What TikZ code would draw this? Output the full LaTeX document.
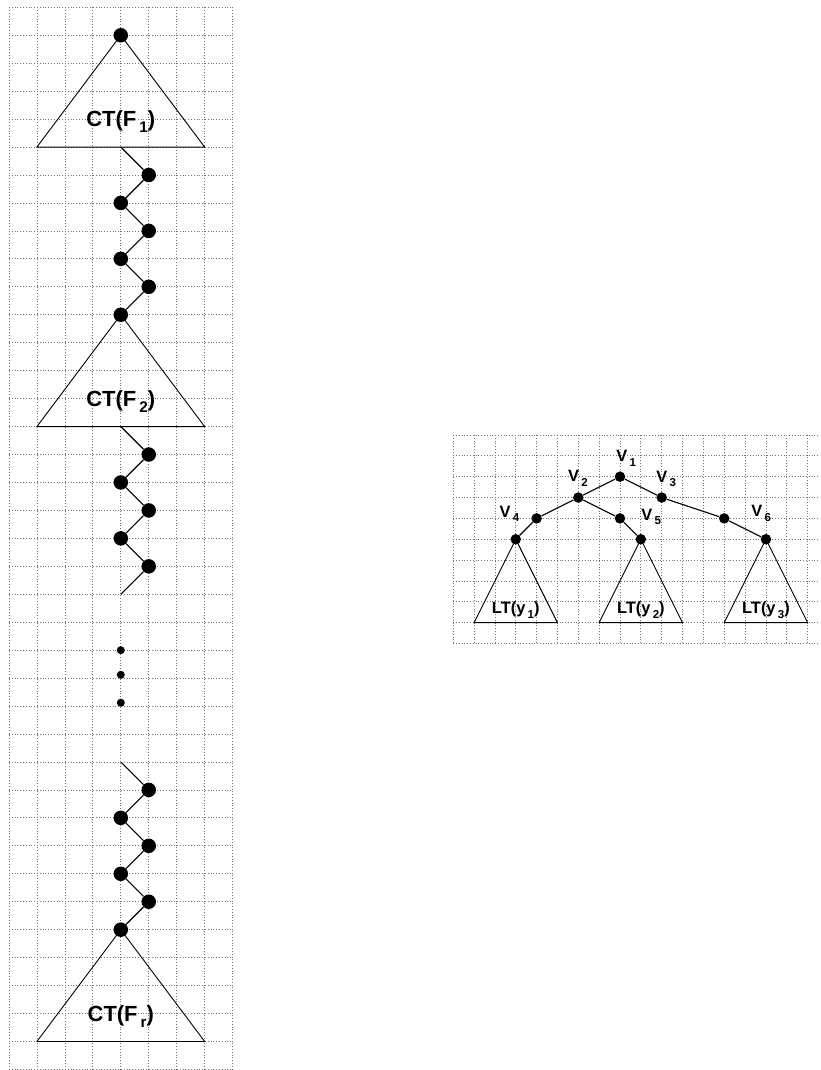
\documentclass[tikz,border=0pt]{standalone}
\usepackage{fontspec}
\setmainfont{Liberation Sans}
\usepackage{graphicx}
\newcommand{\sbx}[1]{\kern0.14em\raisebox{-0.28em}{\scalebox{0.7}{#1}}}
\tikzset{
 gridline/.style={draw=black!55, line width=0.75bp, dash pattern=on 0.75bp off 2.05bp},
 edge/.style={line width=1.1bp},
 tri/.style={line width=0.9bp},
 bigdot/.style={circle, fill=black, inner sep=0pt, minimum size=14.5bp},
 rdot/.style={circle, fill=black, inner sep=0pt, minimum size=10.5bp},
 smdot/.style={circle, fill=black, inner sep=0pt, minimum size=8bp},
 ctlabel/.style={font=\fontsize{22}{25}\selectfont\bfseries, inner sep=0pt, anchor=base},
 ltlabel/.style={font=\fontsize{16.5}{19}\selectfont\bfseries, inner sep=0pt, anchor=base},
 vlabel/.style={font=\fontsize{16.5}{19}\selectfont\bfseries, inner sep=0pt, anchor=base west},
}
\begin{document}
\begin{tikzpicture}[x=1bp,y=-1bp]
\useasboundingbox (0,0) rectangle (821,1070);
% ---------------- left: chain of caterpillar trees ----------------
\begin{scope}[shift={(9,7.3)}, x=27.95bp, y=-27.95bp]
 \foreach \i in {0,...,8} \draw[gridline] (\i,0) -- (\i,38);
 \foreach \j in {0,...,38} \draw[gridline] (0,\j) -- (8,\j);
 % triangle corners and free ends
 \coordinate (t1l) at (1,5); \coordinate (t1r) at (7,5); \coordinate (m1) at (4,5);
 \coordinate (t2l) at (1,15); \coordinate (t2r) at (7,15); \coordinate (m2) at (4,15);
 \coordinate (t3l) at (1,37); \coordinate (t3r) at (7,37);
 \coordinate (e1) at (4,21); \coordinate (e2) at (4,27);
 % nodes
 \node[bigdot] (r1) at (4,1) {};
 \node[bigdot] (a1) at (5,6) {};
 \node[bigdot] (a2) at (4,7) {};
 \node[bigdot] (a3) at (5,8) {};
 \node[bigdot] (a4) at (4,9) {};
 \node[bigdot] (a5) at (5,10) {};
 \node[bigdot] (r2) at (4,11) {};
 \node[bigdot] (b1) at (5,16) {};
 \node[bigdot] (b2) at (4,17) {};
 \node[bigdot] (b3) at (5,18) {};
 \node[bigdot] (b4) at (4,19) {};
 \node[bigdot] (b5) at (5,20) {};
 \node[smdot] (d1) at (4,23) {};
 \node[smdot] (d2) at (4,23.88) {};
 \node[smdot] (d3) at (4,24.88) {};
 \node[bigdot] (c1) at (5,28) {};
 \node[bigdot] (c2) at (4,29) {};
 \node[bigdot] (c3) at (5,30) {};
 \node[bigdot] (c4) at (4,31) {};
 \node[bigdot] (c5) at (5,32) {};
 \node[bigdot] (r3) at (4,33) {};
 % triangles
 \draw[tri] (r1.center) -- (t1l) -- (t1r) -- cycle;
 \draw[tri] (r2.center) -- (t2l) -- (t2r) -- cycle;
 \draw[tri] (r3.center) -- (t3l) -- (t3r) -- cycle;
 % connectors
 \draw[edge] (m1) -- (a1) -- (a2) -- (a3) -- (a4) -- (a5) -- (r2);
 \draw[edge] (m2) -- (b1) -- (b2) -- (b3) -- (b4) -- (b5) -- (e1);
 \draw[edge] (e2) -- (c1) -- (c2) -- (c3) -- (c4) -- (c5) -- (r3);
 % labels
 \node[ctlabel] (ct1) at (4,4.27) {CT(F\sbx{1})};
 \node[ctlabel] (ct2) at (4,14.27) {CT(F\sbx{2})};
 \node[ctlabel] (ct3) at (4,36.27) {CT(F\sbx{r})};
\end{scope}
% ---------------- right: small tree ----------------
\begin{scope}[shift={(620,476.7)}, x=20.85bp, y=-20.85bp]
 \foreach \i in {-8,...,9} \draw[gridline] (\i,-2) -- (\i,8);
 \foreach \j in {-2,...,8} \draw[gridline] (-8,\j) -- (9.5,\j);
 \node[rdot] (v1) at (0,0) {};
 \node[rdot] (v2) at (-2,1) {};
 \node[rdot] (v3) at (2,1) {};
 \node[rdot] (v4) at (-4,2) {};
 \node[rdot] (v5) at (0,2) {};
 \node[rdot] (v6) at (5,2) {};
 \node[rdot] (w1) at (-5,3) {};
 \node[rdot] (w2) at (1,3) {};
 \node[rdot] (w3) at (7,3) {};
 \coordinate (p1l) at (-7,7); \coordinate (p1r) at (-3,7);
 \coordinate (p2l) at (-1,7); \coordinate (p2r) at (3,7);
 \coordinate (p3l) at (5,7); \coordinate (p3r) at (9,7);
 \draw[tri] (w1.center) -- (p1l) -- (p1r) -- cycle;
 \draw[tri] (w2.center) -- (p2l) -- (p2r) -- cycle;
 \draw[tri] (w3.center) -- (p3l) -- (p3r) -- cycle;
 \draw[edge] (v1) -- (v2);
 \draw[edge] (v1) -- (v3);
 \draw[edge] (v2) -- (v4);
 \draw[edge] (v2) -- (v5);
 \draw[edge] (v3) -- (v6);
 \draw[edge] (v4) -- (w1);
 \draw[edge] (v5) -- (w2);
 \draw[edge] (v6) -- (w3);
 \node[ltlabel] (lt1) at (-5,6.56) {LT(y\sbx{1})};
 \node[ltlabel] (lt2) at (1,6.56) {LT(y\sbx{2})};
 \node[ltlabel] (lt3) at (7,6.56) {LT(y\sbx{3})};
\end{scope}
\node[vlabel] (V1) at (616.2,461.7) {V\sbx{1}};
\node[vlabel] (V2) at (567.8,481.7) {V\sbx{2}};
\node[vlabel] (V3) at (656.2,482.3) {V\sbx{3}};
\node[vlabel] (V4) at (499.5,517) {V\sbx{4}};
\node[vlabel] (V5) at (641.2,520) {V\sbx{5}};
\node[vlabel] (V6) at (751.2,516.7) {V\sbx{6}};
\end{tikzpicture}
\end{document}
